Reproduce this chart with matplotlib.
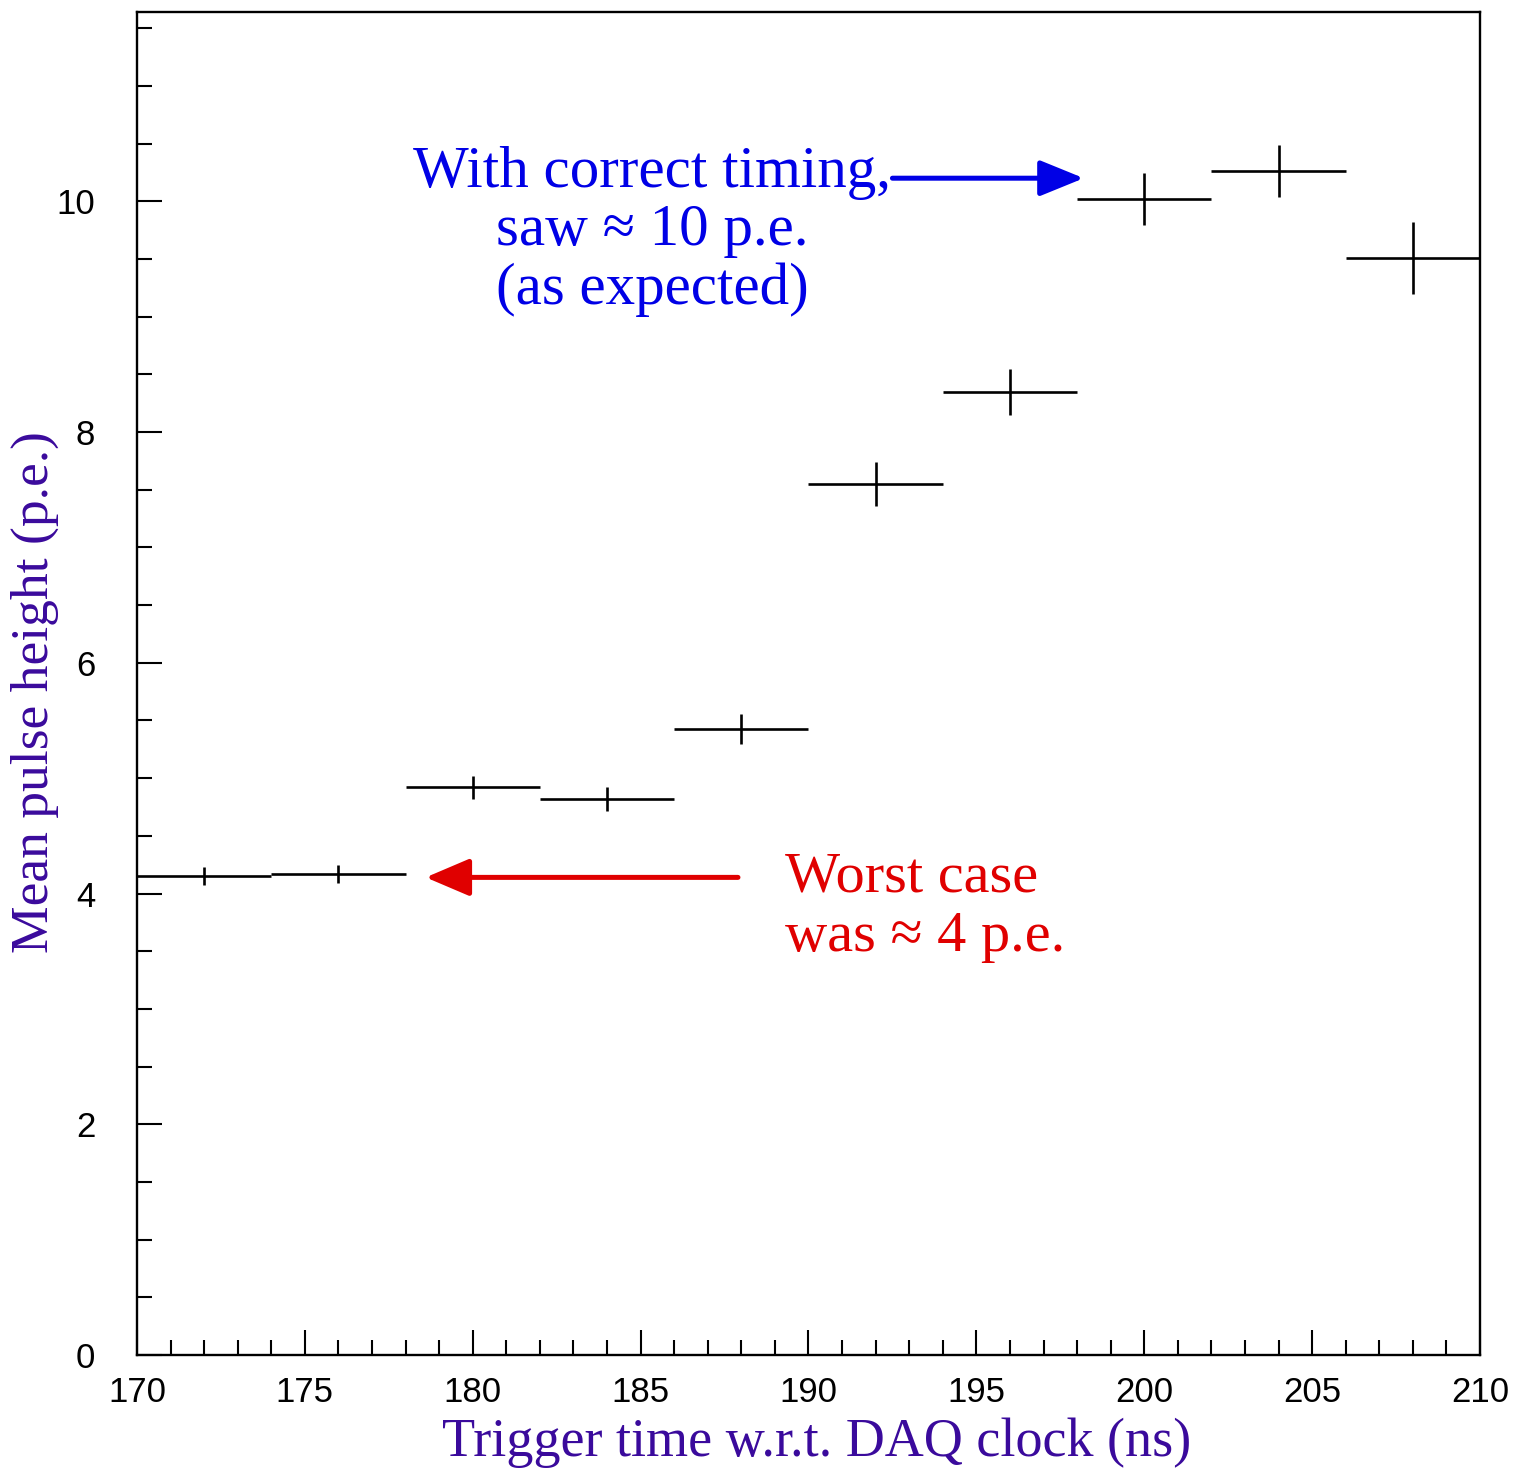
import numpy as np
import matplotlib.pyplot as plt
from matplotlib.ticker import MultipleLocator

# bin centres (ns), half-width of each bin, mean pulse height and its error
trigger_time = [172, 176, 180, 184, 188, 192, 196, 200, 204, 208]
bin_half = [2, 2, 2, 2, 2, 2, 2, 2, 2, 2]
pulse_height = [4.15, 4.17, 4.92, 4.82, 5.43, 7.55, 8.35, 10.02, 10.26, 9.51]
pulse_err = [0.08, 0.08, 0.10, 0.105, 0.13, 0.19, 0.20, 0.225, 0.225, 0.31]

good_text = ["With correct timing,", "saw \u2248 10 p.e.", "(as expected)"]
bad_text = ["Worst case", "was \u2248 4 p.e."]

fig = plt.figure(figsize=(15.15, 14.70), dpi=100)
ax = fig.add_axes([0.0904, 0.0782, 0.8865, 0.9136])

ax.errorbar(trigger_time, pulse_height, xerr=bin_half, yerr=pulse_err,
            fmt="none", ecolor="black", elinewidth=1.9, capsize=0)

ax.set_xlim(170, 210)
ax.set_ylim(0, 11.64)
ax.xaxis.set_major_locator(MultipleLocator(5))
ax.xaxis.set_minor_locator(MultipleLocator(1))
ax.yaxis.set_major_locator(MultipleLocator(2))
ax.yaxis.set_minor_locator(MultipleLocator(0.5))

for s in ax.spines.values():
    s.set_linewidth(1.7)
ax.tick_params(which="both", direction="in", top=False, right=False,
               width=1.5, labelsize=25, colors="black")
ax.tick_params(which="major", length=18)
ax.tick_params(which="minor", length=11)
ax.tick_params(axis="y", pad=30)
ax.tick_params(axis="x", pad=15)
for lab in ax.get_xticklabels() + ax.get_yticklabels():
    lab.set_family("Liberation Sans")

label_color = "#3a0a9c"
ax.set_xlabel("Trigger time w.r.t. DAQ clock (ns)", fontsize=39,
              family="Liberation Serif", color=label_color)
ax.set_ylabel("Mean pulse height (p.e.)", fontsize=38.5,
              family="Liberation Serif", color=label_color)
ax.xaxis.set_label_coords(0.506, -0.0655)
ax.xaxis.label.set_va("center")
ax.yaxis.set_label_coords(-0.076, 0.494)
ax.yaxis.label.set_va("center")

blue = "#0000e6"
red = "#e00000"
for txt, y in zip(good_text, [10.245, 9.74, 9.235]):
    ax.text(185.35, y, txt, fontsize=42.5, family="Liberation Serif",
            color=blue, ha="center", va="center")
for txt, y in zip(bad_text, [4.14, 3.62]):
    ax.text(189.3, y, txt, fontsize=42, family="Liberation Serif",
            color=red, ha="left", va="center")

ax.annotate("", xy=(198.2, 10.2), xytext=(192.5, 10.2),
            arrowprops=dict(arrowstyle="-|>,head_length=2.7,head_width=1.1",
                            color=blue, lw=3.6, shrinkA=0, shrinkB=0))
ax.annotate("", xy=(178.6, 4.14), xytext=(187.9, 4.14),
            arrowprops=dict(arrowstyle="-|>,head_length=2.7,head_width=1.15",
                            color=red, lw=3.6, shrinkA=0, shrinkB=0))

plt.savefig("out.png", dpi=100)
